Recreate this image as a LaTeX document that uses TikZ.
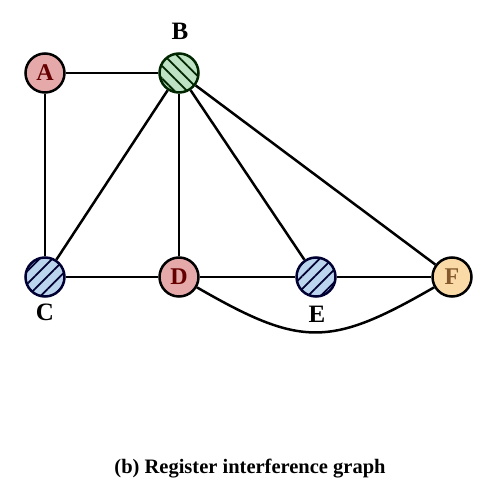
\documentclass[tikz,border=0pt]{standalone}
\usepackage{fontspec}
\setmainfont{Liberation Serif}
\usetikzlibrary{patterns.meta}

\definecolor{regred}{HTML}{E6A9A9}
\definecolor{reggreen}{HTML}{BDE2C4}
\definecolor{regblue}{HTML}{BCD5EE}
\definecolor{regorange}{HTML}{FADBA8}

\begin{document}
\begin{tikzpicture}[
    x=1pt, y=-1pt,
    reg/.style={draw, circle, line width=2.5pt, minimum size=39pt, inner sep=0pt, font=\fontsize{24}{24}\selectfont\bfseries},
    redreg/.style={reg, fill=regred, draw=black, text=red!40!black},
    greenreg/.style={reg, fill=reggreen, draw=green!15!black, postaction={pattern={Lines[angle=-45, distance=9pt, line width=1.8pt]}, pattern color=green!15!black}},
    bluereg/.style={reg, fill=regblue, draw=blue!20!black, postaction={pattern={Lines[angle=45, distance=9pt, line width=1.8pt]}, pattern color=blue!20!black}},
    orangereg/.style={reg, fill=regorange, draw=black, text=brown!70!black},
    edge/.style={line width=2.5pt},
    lbl/.style={font=\fontsize{25}{25}\selectfont\bfseries}
]
\useasboundingbox (0,0) rectangle (489,502);

% registers
\node[redreg] (a) at (45,73) {A};
\node[greenreg] (b) at (179,73) {};
\node[bluereg] (c) at (45,277) {};
\node[redreg] (d) at (179,277) {D};
\node[bluereg] (e) at (316,277) {};
\node[orangereg] (f) at (452,277) {F};

% outer labels
\node[lbl] (lb) at (180,31) {B};
\node[lbl] (lc) at (45,312) {C};
\node[lbl] (le) at (317,314) {E};

% interference edges
\draw[edge] (a) -- (b);
\draw[edge] (a) -- (c);
\draw[edge] (b) -- (c);
\draw[edge] (b) -- (d);
\draw[edge] (b) -- (e);
\draw[edge] (b) -- (f);
\draw[edge] (c) -- (d);
\draw[edge] (d) -- (e);
\draw[edge] (e) -- (f);
\draw[edge] (d) to[out=-30, in=-150, looseness=1.3] (f);

% caption
\node[font=\fontsize{20.5}{20.5}\selectfont\bfseries] (cap) at (250,469) {(b) Register interference graph};
\end{tikzpicture}
\end{document}
